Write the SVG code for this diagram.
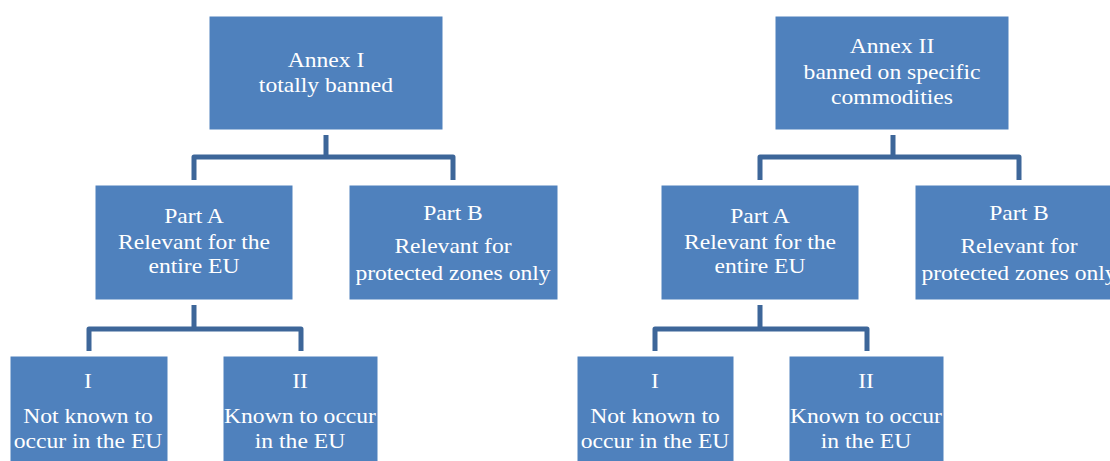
<svg xmlns="http://www.w3.org/2000/svg" width="1110" height="461" viewBox="0 0 1110 461">
<style>
.box{fill:#4F81BD;stroke:#ffffff;stroke-width:1}
.t{font-family:"Liberation Serif","Times New Roman",serif;font-size:20px;fill:#ffffff;text-anchor:middle}
.c{fill:none;stroke:#3D6699;stroke-width:5;stroke-linejoin:round}
</style>
<rect width="1110" height="461" fill="#ffffff"/>
<g id="connectors">
<path class="c" d="M194,180 V157 H453 V180 M326,157 V135"/>
<path class="c" d="M760,180 V157 H1019 V180 M893,157 V135"/>
<path class="c" d="M89,351 V329 H301 V351 M194,329 V305"/>
<path class="c" d="M655,351 V329 H867 V351 M760,329 V305"/>
</g>
<g id="annex1">
<rect class="box" x="209" y="16" width="234" height="114"/>
<g transform="translate(326,0) scale(1.18,1)"><text class="t" x="0" y="67">Annex  I</text><text class="t" x="0" y="92">totally  banned</text></g>
</g>
<g id="annex2">
<rect class="box" x="775" y="16" width="234" height="114"/>
<g transform="translate(892,0) scale(1.18,1)"><text class="t" x="0" y="53">Annex  II</text><text class="t" x="0" y="79">banned on specific</text><text class="t" x="0" y="104">commodities</text></g>
</g>
<g id="partA-left">
<rect class="box" x="95" y="185" width="198" height="115"/>
<g transform="translate(194,0) scale(1.18,1)"><text class="t" x="0" y="223">Part A</text><text class="t" x="0" y="249">Relevant  for the</text><text class="t" x="0" y="273">entire  EU</text></g>
</g>
<g id="partB-left">
<rect class="box" x="349" y="185" width="209" height="115"/>
<g transform="translate(453,0) scale(1.18,1)"><text class="t" x="0" y="220">Part B</text><text class="t" x="0" y="253">Relevant  for</text><text class="t" x="0" y="280">protected zones  only</text></g>
</g>
<g id="partA-right">
<rect class="box" x="661" y="185" width="198" height="115"/>
<g transform="translate(760,0) scale(1.18,1)"><text class="t" x="0" y="223">Part A</text><text class="t" x="0" y="249">Relevant  for the</text><text class="t" x="0" y="273">entire  EU</text></g>
</g>
<g id="partB-right">
<rect class="box" x="915" y="185" width="209" height="115"/>
<g transform="translate(1019,0) scale(1.18,1)"><text class="t" x="0" y="220">Part B</text><text class="t" x="0" y="253">Relevant  for</text><text class="t" x="0" y="280">protected zones  only</text></g>
</g>
<g id="I-left">
<rect class="box" x="10" y="356" width="158" height="110"/>
<g transform="translate(88,0) scale(1.18,1)"><text class="t" x="0" y="388">I</text><text class="t" x="0" y="423">Not known to</text><text class="t" x="0" y="448">occur in  the EU</text></g>
</g>
<g id="II-left">
<rect class="box" x="223" y="356" width="155" height="110"/>
<g transform="translate(300,0) scale(1.18,1)"><text class="t" x="0" y="388">II</text><text class="t" x="0" y="423">Known to occur</text><text class="t" x="0" y="448">in  the EU</text></g>
</g>
<g id="I-right">
<rect class="box" x="577" y="356" width="157" height="110"/>
<g transform="translate(655,0) scale(1.18,1)"><text class="t" x="0" y="388">I</text><text class="t" x="0" y="423">Not known to</text><text class="t" x="0" y="448">occur in  the EU</text></g>
</g>
<g id="II-right">
<rect class="box" x="789" y="356" width="155" height="110"/>
<g transform="translate(866,0) scale(1.18,1)"><text class="t" x="0" y="388">II</text><text class="t" x="0" y="423">Known to occur</text><text class="t" x="0" y="448">in  the EU</text></g>
</g>
</svg>
